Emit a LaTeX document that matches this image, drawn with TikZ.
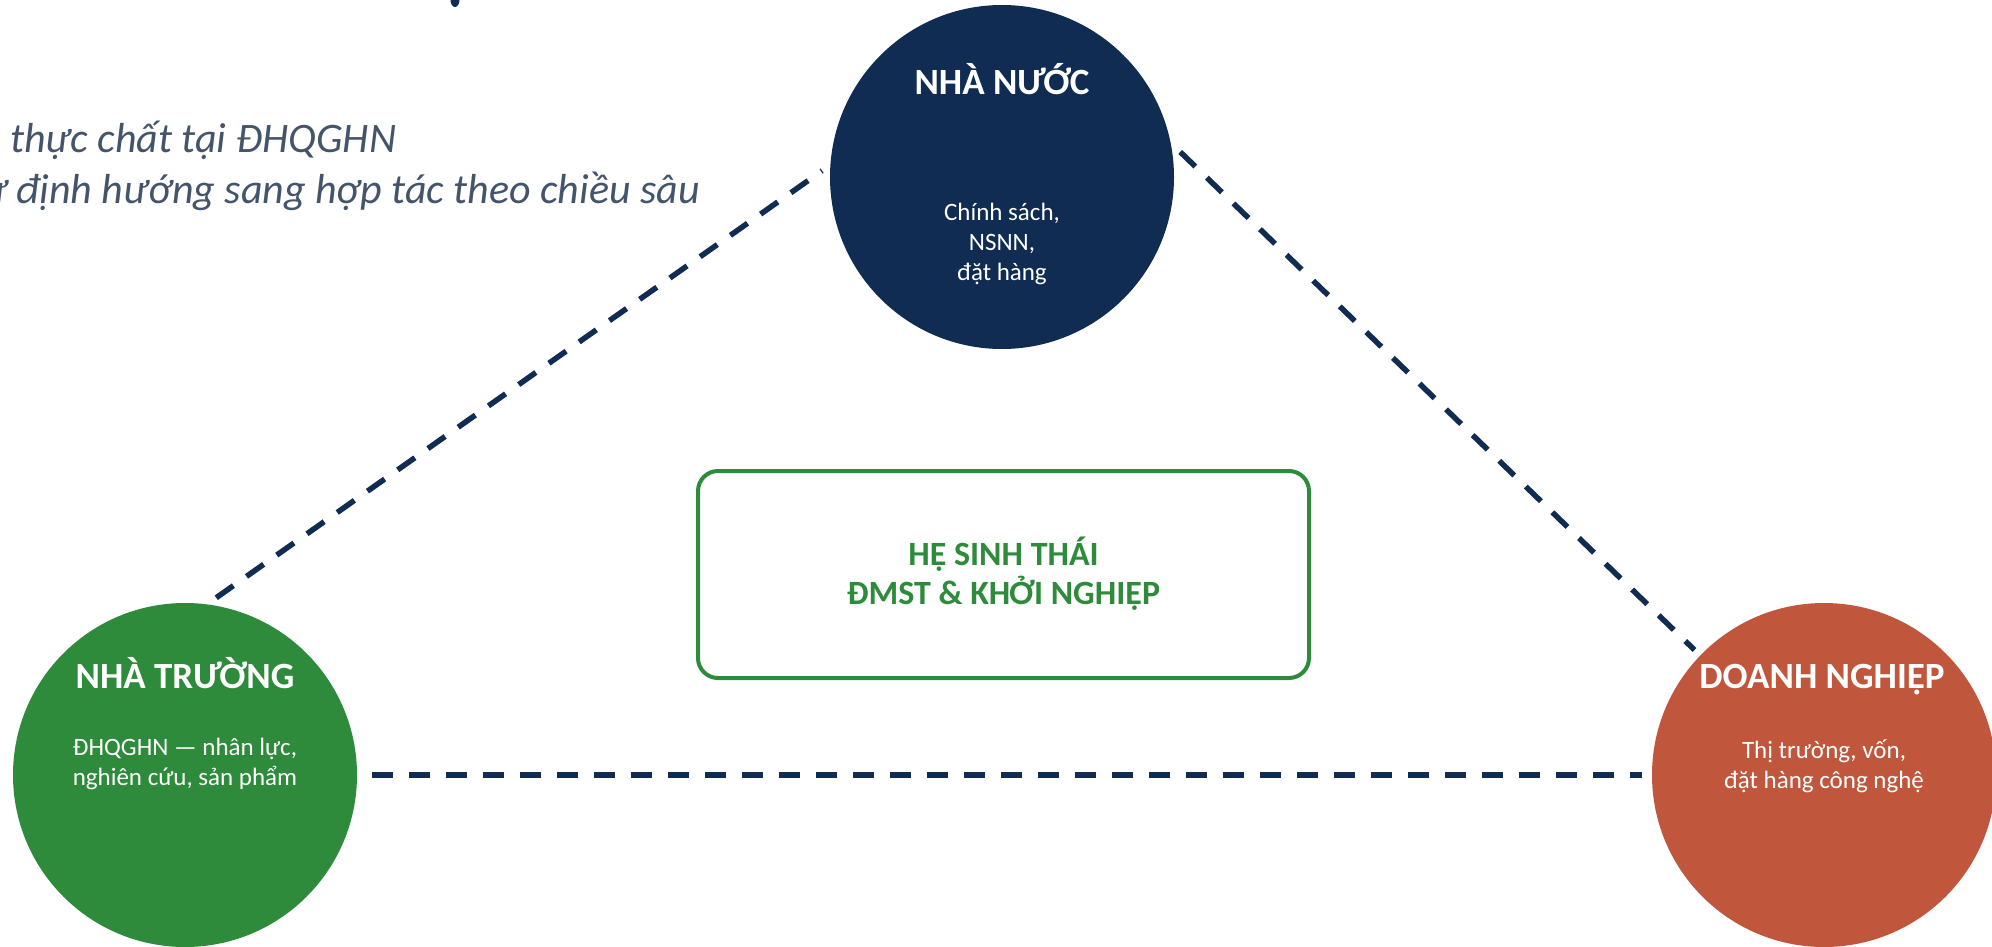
\documentclass[tikz,border=0pt]{standalone}
\usepackage{fontspec}
\setmainfont{Carlito}
\definecolor{navy}{HTML}{102C52}
\definecolor{grn}{HTML}{2E8B3B}
\definecolor{org}{HTML}{C0573C}
\definecolor{slate}{HTML}{44546A}
\begin{document}
\begin{tikzpicture}[x=1pt,y=-1pt,
  blob/.style={circle, minimum size=344pt, inner sep=0pt, outer sep=8pt, draw=none},
  link/.style={draw=navy, line width=5.5pt, dash pattern=on 21pt off 16pt},
  ttl/.style={text=white, font=\fontsize{37}{40}\selectfont\bfseries, inner sep=0pt, anchor=base},
  sub/.style={text=white, font=\fontsize{25}{30}\selectfont, align=center, inner sep=0pt},
  hdr/.style={text=slate, font=\fontsize{42}{48}\selectfont\itshape, inner sep=0pt, anchor=base west},
  ecobox/.style={draw=grn, line width=4pt, rounded corners=20pt, minimum width=611pt, minimum height=207pt, inner sep=0pt},
  ecotxt/.style={text=grn, font=\fontsize{34}{39}\selectfont\bfseries, align=center, inner sep=0pt}
]
\useasboundingbox (0,0) rectangle (1992,947);
% fragment of a title above the picture
\fill[navy] (455,0) ellipse (4.5pt and 7pt);
% heading fragments
\node[hdr] (h1) at (10,153) {thực chất tại ĐHQGHN};
\node[hdr] (h2) at (-18,203) {ư định hướng sang hợp tác theo chiều sâu};
% circles
\node[blob, fill=navy] (T) at (1002,177) {};
\node[blob, fill=grn] (L) at (185,775) {};
\node[blob, fill=org] (R) at (1824,775) {};
% connectors
\draw[link] (L.80) -- (T.178.4);
\draw[link] (T.8.5) -- (R.136.3);
\draw[link, shorten <=7pt, shorten >=2pt] (L.0) -- (R.180);
% circle texts
\node[ttl] (Tt) at (1002,95) {NHÀ NƯỚC};
\node[sub] (Ts) at (1002,244) {Chính sách,\\NSNN,\\đặt hàng};
\node[ttl] (Lt) at (185,688) {NHÀ TRƯỜNG};
\node[sub] (Ls) at (185,764) {ĐHQGHN — nhân lực,\\nghiên cứu, sản phẩm};
\node[ttl] (Rt) at (1822,688) {DOANH NGHIỆP};
\node[sub] (Rs) at (1824,766) {Thị trường, vốn,\\đặt hàng công nghệ};
% center box
\node[ecobox] (eco) at (1003.5,574.5) {};
\node[ecotxt] (ecot) at (1003.5,574) {HỆ SINH THÁI\\ĐMST \& KHỞI NGHIỆP};
\end{tikzpicture}
\end{document}
